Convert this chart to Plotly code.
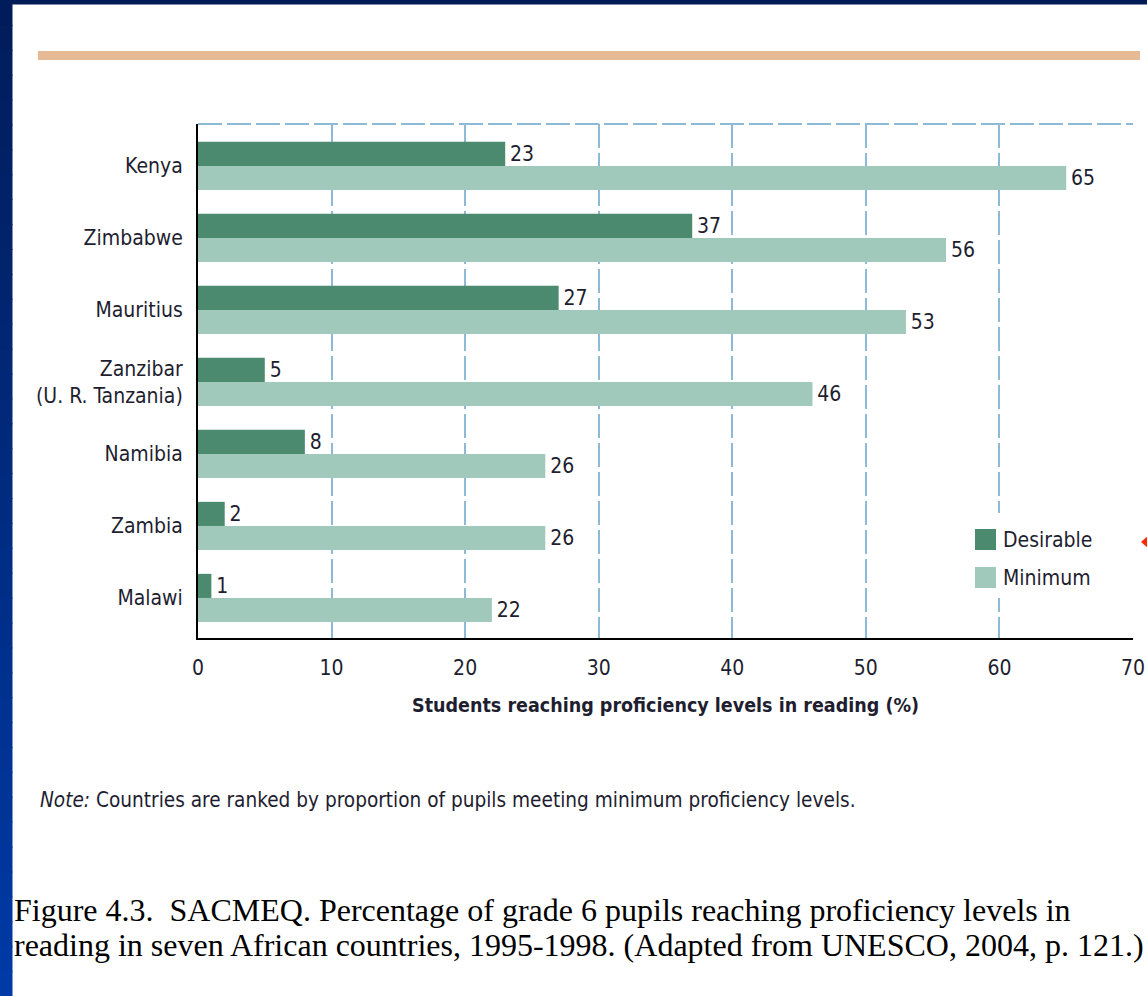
import plotly.graph_objects as go

countries = ["Kenya", "Zimbabwe", "Mauritius", "Zanzibar<br>(U. R. Tanzania)",
             "Namibia", "Zambia", "Malawi"]
desirable = [23, 37, 27, 5, 8, 2, 1]
minimum = [65, 56, 53, 46, 26, 26, 22]
x_ticks = [0, 10, 20, 30, 40, 50, 60, 70]
series_names = ["Desirable", "Minimum"]

W, H = 1147, 996
L, R, T, B = 198, 1133, 124, 638
PW, PH = R - L, B - T


def px(x):
    return (x - L) / PW


def py(y):
    return (B - y) / PH


DARK = "#4b8a6f"
LIGHT = "#a1c9bb"
GRID = "#8dbad6"
TXT = "#1e1e30"
FONT = "Liberation Sans Narrow, DejaVu Sans Condensed, Arial Narrow, sans-serif"
FS = 21

fig = go.Figure()
fig.add_trace(go.Bar(y=countries, x=desirable, orientation="h", name=series_names[0],
                     marker=dict(color=DARK, line=dict(width=0)),
                     text=desirable, texttemplate="\u200a%{x}", textposition="outside",
                     constraintext="none", cliponaxis=False,
                     textfont=dict(size=FS, color=TXT, family=FONT)))
fig.add_trace(go.Bar(y=countries, x=minimum, orientation="h", name=series_names[1],
                     marker=dict(color=LIGHT, line=dict(width=0)),
                     text=minimum, texttemplate="\u200a%{x}", textposition="outside",
                     constraintext="none", cliponaxis=False,
                     textfont=dict(size=FS, color=TXT, family=FONT)))

shapes = []
# top slide border
shapes.append(dict(type="rect", xref="paper", yref="paper", x0=px(0), x1=px(W),
                   y0=py(4.5), y1=py(0), fillcolor="#011b58", line=dict(width=0), layer="above"))
# left slide border gradient
n = 40
c0 = (0x01, 0x1c, 0x5a)
c1 = (0x00, 0x3a, 0xa6)
for i in range(n):
    t = i / (n - 1)
    c = tuple(int(round(a + (b - a) * t)) for a, b in zip(c0, c1))
    y0 = H * i / n
    y1 = H * (i + 1) / n + 1
    shapes.append(dict(type="rect", xref="paper", yref="paper", x0=px(0), x1=px(12.5),
                       y0=py(y1), y1=py(y0), fillcolor="rgb(%d,%d,%d)" % c,
                       line=dict(width=0), layer="above"))
# orange rule
shapes.append(dict(type="rect", xref="paper", yref="paper", x0=px(38), x1=px(1140),
                   y0=py(60), y1=py(51), fillcolor="#e6ba94", line=dict(width=0), layer="above"))
# dashed top border of plot
shapes.append(dict(type="line", xref="paper", yref="paper", x0=0, x1=1, y0=1, y1=1,
                   line=dict(color=GRID, width=2, dash="24px,5px"), layer="below"))
# legend box (white background) and swatches
shapes.append(dict(type="rect", xref="paper", yref="paper", x0=px(966), x1=px(1100),
                   y0=py(598), y1=py(513), fillcolor="white", line=dict(width=0), layer="above"))
shapes.append(dict(type="rect", xref="paper", yref="paper", x0=px(975), x1=px(996),
                   y0=py(550), y1=py(529), fillcolor=DARK, line=dict(width=0), layer="above"))
shapes.append(dict(type="rect", xref="paper", yref="paper", x0=px(975), x1=px(996),
                   y0=py(588), y1=py(567), fillcolor=LIGHT, line=dict(width=0), layer="above"))
# small red marker at right edge
shapes.append(dict(type="path", xref="paper", yref="paper",
                   path="M %f %f L %f %f L %f %f Z" % (px(1141), py(542), px(1150), py(534), px(1150), py(550)),
                   fillcolor="#ff2a00", line=dict(width=0), layer="above"))

SERIF = "Liberation Serif, Times New Roman, serif"
annotations = [
    dict(text="Desirable", x=px(1001), y=py(540), xref="paper", yref="paper",
         xanchor="left", yanchor="middle", showarrow=False,
         font=dict(size=FS, color=TXT, family=FONT)),
    dict(text="Minimum", x=px(1001), y=py(578), xref="paper", yref="paper",
         xanchor="left", yanchor="middle", showarrow=False,
         font=dict(size=FS, color=TXT, family=FONT)),
    dict(text="<b>Students reaching proficiency levels in reading (%)</b>",
         x=px(665.5), y=py(705), xref="paper", yref="paper",
         xanchor="center", yanchor="middle", showarrow=False,
         font=dict(size=19.5, color=TXT, family=FONT)),
    dict(text="<i>Note:</i> Countries are ranked by proportion of pupils meeting minimum proficiency levels.",
         x=px(38), y=py(800), xref="paper", yref="paper",
         xanchor="left", yanchor="middle", showarrow=False,
         font=dict(size=20.6, color=TXT, family=FONT)),
    dict(text="Figure 4.3.  SACMEQ. Percentage of grade 6 pupils reaching proficiency levels in",
         x=px(12), y=py(910), xref="paper", yref="paper", align="left",
         xanchor="left", yanchor="middle", showarrow=False,
         font=dict(size=32, color="#000000", family=SERIF)),
    dict(text="reading in seven African countries, 1995-1998. (Adapted from UNESCO, 2004, p. 121.)",
         x=px(12), y=py(945), xref="paper", yref="paper", align="left",
         xanchor="left", yanchor="middle", showarrow=False,
         font=dict(size=32, color="#000000", family=SERIF)),
]

fig.update_layout(
    width=W, height=H, autosize=False,
    margin=dict(l=L, r=W - R, t=T, b=H - B, pad=0, autoexpand=False),
    paper_bgcolor="white", plot_bgcolor="white",
    barmode="group", bargap=0.33, bargroupgap=0,
    showlegend=False,
    shapes=shapes, annotations=annotations,
    font=dict(family=FONT, color=TXT),
)
fig.update_xaxes(range=[0, 70], tickvals=x_ticks, showgrid=True, gridcolor=GRID, gridwidth=2,
                 griddash="24px,5px", zeroline=False, showline=True, linecolor="black",
                 linewidth=2, ticks="", ticklabelstandoff=10, automargin=False,
                 tickfont=dict(size=FS, color=TXT, family=FONT))
fig.update_yaxes(categoryorder="array", categoryarray=countries, range=[6.556, -0.583],
                 showgrid=False, zeroline=False, showline=True, linecolor="black", linewidth=2,
                 ticks="", ticklabelstandoff=9, automargin=False,
                 tickfont=dict(size=FS, color=TXT, family=FONT))

fig.write_html("out.html", config={"responsive": False})
